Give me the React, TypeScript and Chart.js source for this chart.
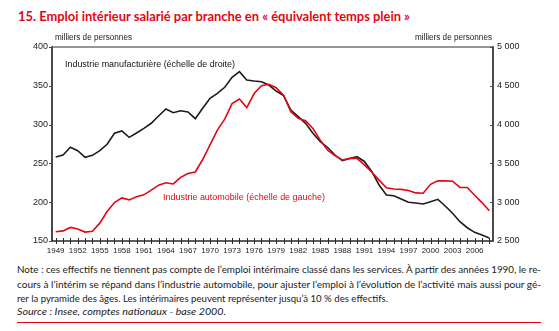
import React, { useEffect, useLayoutEffect, useRef } from "react";
import { Chart, registerables } from "chart.js";

Chart.register(...registerables);

// ---------- DATA ----------
const years: string[] = [
  "1949", "1950", "1951", "1952", "1953", "1954", "1955", "1956", "1957", "1958",
  "1959", "1960", "1961", "1962", "1963", "1964", "1965", "1966", "1967", "1968",
  "1969", "1970", "1971", "1972", "1973", "1974", "1975", "1976", "1977", "1978",
  "1979", "1980", "1981", "1982", "1983", "1984", "1985", "1986", "1987", "1988",
  "1989", "1990", "1991", "1992", "1993", "1994", "1995", "1996", "1997", "1998",
  "1999", "2000", "2001", "2002", "2003", "2004", "2005", "2006", "2007", "2008",
];

// Industrie automobile (left scale, thousands)
const automobile: number[] = [
  162, 163, 167.5, 165.5, 161.5, 162.5, 173, 188, 199.5, 205.5,
  203, 207, 209.5, 215.5, 222, 225, 223.5, 232, 237, 239,
  255, 274, 293, 307, 327, 333, 322, 340, 350, 352,
  347.5, 338, 316.5, 308, 305, 295, 280, 267, 260, 254.5,
  256.5, 256.5, 248, 239, 228.5, 218.5, 217, 216.5, 215, 212,
  211.5, 223, 227.5, 227.5, 227, 219, 219, 209, 199.5, 189,
];

// Industrie manufacturière (right scale, thousands)
const manufacturiere: number[] = [
  3582, 3608, 3708, 3664, 3579, 3604, 3664, 3746, 3888, 3918,
  3836, 3892, 3952, 4017, 4111, 4201, 4153, 4179, 4162, 4076,
  4210, 4339, 4403, 4481, 4610, 4682, 4575, 4562, 4553, 4510,
  4433, 4373, 4188, 4102, 4017, 3888, 3780, 3705, 3608, 3537,
  3563, 3586, 3525, 3396, 3222, 3093, 3084, 3041, 3000, 2990,
  2977, 3006, 3037, 2951, 2857, 2749, 2671, 2612, 2577, 2540,
];

const leftTicks = { min: 150, max: 400, step: 50 };
const rightTicks = { min: 2500, max: 5000, step: 500 };

const TITLE = "15. Emploi intérieur salarié par branche en « équivalent temps plein »";
const UNIT = "milliers de personnes";
const LABEL_MANUF = "Industrie manufacturière (échelle de droite)";
const LABEL_AUTO = "Industrie automobile (échelle de gauche)";
const NOTE_LINES = [
  "Note : ces effectifs ne tiennent pas compte de l’emploi intérimaire classé dans les services. À partir des années 1990, le re-",
  "cours à l’intérim se répand dans l’industrie automobile, pour ajuster l’emploi à l’évolution de l’activité mais aussi pour gé-",
  "rer la pyramide des âges. Les intérimaires peuvent représenter jusqu’à 10 % des effectifs.",
];
const SOURCE = "Source : Insee, comptes nationaux - base 2000.";

const RED = "#e30613";
const BLACK = "#1c1c1c";
const TICK_FONT = '"Liberation Sans Narrow", "Liberation Sans", Arial, sans-serif';

function fmtThousands(v: number): string {
  const s = String(Math.round(v));
  return s.length > 3 ? s.slice(0, s.length - 3) + " " + s.slice(s.length - 3) : s;
}

function FitLine(props: {
  text: string; x: number; cy: number; width: number; size: number; style?: React.CSSProperties;
}) {
  const ref = useRef<HTMLSpanElement>(null);
  useLayoutEffect(() => {
    const fit = () => {
      const el = ref.current;
      if (!el) return;
      el.style.transform = "none";
      const w = el.getBoundingClientRect().width;
      if (w > 0) el.style.transform = `scaleX(${props.width / w})`;
    };
    fit();
    if ((document as any).fonts && (document as any).fonts.ready) {
      (document as any).fonts.ready.then(fit);
    }
  }, [props.text, props.width]);
  return (
    <span
      ref={ref}
      style={{
        position: "absolute",
        left: props.x,
        top: props.cy - props.size / 2,
        fontSize: props.size,
        lineHeight: 1,
        whiteSpace: "nowrap",
        transformOrigin: "0 50%",
        ...props.style,
      }}
    >
      {props.text}
    </span>
  );
}

function drawFitText(ctx: CanvasRenderingContext2D, text: string, x: number, cy: number,
  width: number, size: number, color: string, align: "left" | "right" = "left") {
  ctx.save();
  ctx.font = `${size}px "Liberation Sans", Arial, sans-serif`;
  const w = ctx.measureText(text).width;
  const s = width / w;
  ctx.fillStyle = color;
  ctx.textBaseline = "middle";
  ctx.textAlign = "left";
  const x0 = align === "left" ? x : x - width;
  ctx.translate(x0, cy);
  ctx.scale(s, 1);
  ctx.fillText(text, 0, 0);
  ctx.restore();
}

const framePlugin = {
  id: "frame",
  afterDraw(chart: any) {
    const { ctx, chartArea } = chart;
    const { left, right, top, bottom } = chartArea;
    const xs = chart.scales.x;
    const yl = chart.scales.yL;
    const yr = chart.scales.yR;
    ctx.save();
    // top line
    ctx.strokeStyle = "#707070";
    ctx.lineWidth = 1.5;
    ctx.beginPath();
    ctx.moveTo(left, top);
    ctx.lineTo(right, top);
    ctx.stroke();
    // side axes
    ctx.strokeStyle = "#4a4a4a";
    ctx.lineWidth = 2;
    ctx.beginPath();
    ctx.moveTo(left, top - 0.75);
    ctx.lineTo(left, bottom + 0.75);
    ctx.moveTo(right, top - 0.75);
    ctx.lineTo(right, bottom + 0.75);
    ctx.stroke();
    // bottom axis
    ctx.strokeStyle = "#2a2a2a";
    ctx.lineWidth = 1.5;
    ctx.beginPath();
    ctx.moveTo(left, bottom);
    ctx.lineTo(right, bottom);
    ctx.stroke();
    // x ticks crossing the axis
    ctx.lineWidth = 1;
    ctx.beginPath();
    for (let i = 0; i < years.length; i++) {
      const px = Math.round(xs.getPixelForValue(i)) + 0.5;
      ctx.moveTo(px, bottom - 3);
      ctx.lineTo(px, bottom + 3);
    }
    ctx.stroke();
    // y ticks
    ctx.strokeStyle = "#4a4a4a";
    ctx.beginPath();
    for (let v = leftTicks.min; v <= leftTicks.max; v += leftTicks.step) {
      const py = Math.round(yl.getPixelForValue(v)) + 0.5;
      ctx.moveTo(left - 3, py);
      ctx.lineTo(left, py);
    }
    for (let v = rightTicks.min; v <= rightTicks.max; v += rightTicks.step) {
      const py = Math.round(yr.getPixelForValue(v)) + 0.5;
      ctx.moveTo(right - 3, py);
      ctx.lineTo(right, py);
    }
    ctx.stroke();
    ctx.restore();

    // annotations
    drawFitText(ctx, UNIT, left + 3, top - 9.5, 77, 8.5, "#222");
    drawFitText(ctx, UNIT, right - 1, top - 9.5, 77, 8.5, "#222", "right");
    drawFitText(ctx, LABEL_MANUF, left + 13, top + 17.5, 170, 9.5, "#111");
    drawFitText(ctx, LABEL_AUTO, left + 111, top + 150.5, 162, 9.5, RED);
  },
};

function ChartCanvas() {
  const ref = useRef<HTMLCanvasElement>(null);
  useEffect(() => {
    if (!ref.current) return;
    const xFont = { family: TICK_FONT, size: 8 };
    const yFont = { family: TICK_FONT, size: 9 };
    const chart = new Chart(ref.current, {
      type: "line",
      data: {
        labels: years,
        datasets: [
          {
            label: LABEL_AUTO,
            data: automobile,
            yAxisID: "yL",
            borderColor: RED,
            borderWidth: 1.6,
            pointRadius: 0,
            tension: 0,
            fill: false,
          },
          {
            label: LABEL_MANUF,
            data: manufacturiere,
            yAxisID: "yR",
            borderColor: BLACK,
            borderWidth: 1.6,
            pointRadius: 0,
            tension: 0,
            fill: false,
          },
        ],
      },
      options: {
        animation: false,
        responsive: false,
        devicePixelRatio: 1,
        layout: { padding: { top: 47, left: 0, right: 0, bottom: 0 } },
        plugins: { legend: { display: false }, tooltip: { enabled: false } },
        scales: {
          x: {
            type: "category",
            offset: true,
            grid: { display: false, drawTicks: false },
            border: { display: false },
            ticks: {
              autoSkip: false,
              maxRotation: 0,
              minRotation: 0,
              padding: 5,
              color: "#222",
              font: xFont,
              callback: (_v: any, i: number) => (i % 3 === 0 ? years[i] : ""),
            },
            afterFit: (s: any) => { s.height = 21; },
          },
          yL: {
            type: "linear",
            position: "left",
            min: leftTicks.min,
            max: leftTicks.max,
            grid: { display: false, drawTicks: false },
            border: { display: false },
            ticks: { stepSize: leftTicks.step, padding: 4, color: "#222", font: yFont },
            afterFit: (s: any) => { s.width = 52; },
          },
          yR: {
            type: "linear",
            position: "right",
            min: rightTicks.min,
            max: rightTicks.max,
            grid: { display: false, drawTicks: false },
            border: { display: false },
            ticks: {
              stepSize: rightTicks.step,
              padding: 4,
              color: "#222",
              font: yFont,
              callback: (v: any) => fmtThousands(Number(v)),
            },
            afterFit: (s: any) => { s.width = 66; },
          },
        },
      },
      plugins: [framePlugin],
    } as any);
    return () => chart.destroy();
  }, []);
  return (
    <canvas
      ref={ref}
      width={559}
      height={262}
      style={{ position: "absolute", left: 0, top: 0, width: 559, height: 262 }}
    />
  );
}

export default function App() {
  const textColor = "#1a1a1a";
  const font = 'Lato, "Open Sans", sans-serif';
  return (
    <div
      style={{
        position: "fixed",
        left: 0,
        top: 0,
        width: 559,
        height: 331,
        background: "#fff",
        overflow: "hidden",
        fontFamily: font,
      }}
    >
      <FitLine
        text={TITLE}
        x={18}
        cy={17}
        width={392}
        size={13.5}
        style={{ color: RED, fontWeight: 700 }}
      />
      <ChartCanvas />
      <FitLine text={NOTE_LINES[0]} x={17} cy={269} width={524} size={10} style={{ color: textColor }} />
      <FitLine text={NOTE_LINES[1]} x={17} cy={284} width={524} size={10} style={{ color: textColor }} />
      <FitLine text={NOTE_LINES[2]} x={17} cy={298} width={371} size={10} style={{ color: textColor }} />
      <FitLine
        text={SOURCE}
        x={17}
        cy={311}
        width={209}
        size={10}
        style={{ color: textColor, fontStyle: "italic" }}
      />
      <div
        style={{
          position: "absolute",
          left: 17,
          top: 322,
          width: 524,
          height: 1,
          background: RED,
        }}
      />
    </div>
  );
}
